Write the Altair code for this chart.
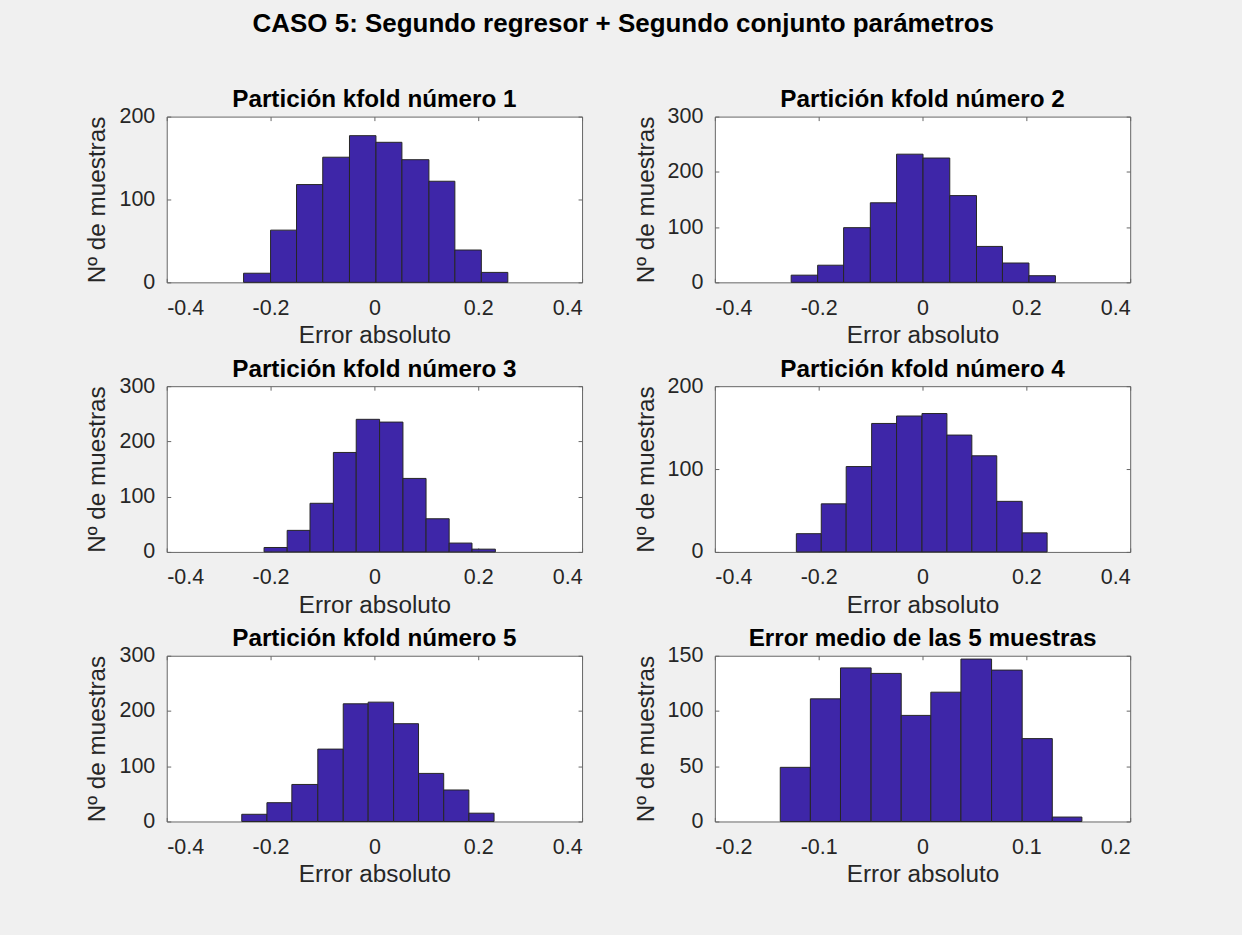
import altair as alt
import pandas as pd

# ---- data ----
titles = ["Partición kfold número 1", "Partición kfold número 2",
          "Partición kfold número 3", "Partición kfold número 4",
          "Partición kfold número 5", "Error medio de las 5 muestras"]

edges1 = [-0.252, -0.200, -0.150, -0.0995, -0.048, 0.003, 0.053, 0.105, 0.155, 0.206, 0.257]
counts1 = [11, 63, 118, 151, 177, 169, 148, 122, 39, 12]

edges2 = [-0.253, -0.202, -0.152, -0.1005, -0.050, 0.001, 0.0525, 0.104, 0.154, 0.205, 0.256]
counts2 = [13, 31, 99, 144, 232, 225, 157, 65, 35, 12]

edges3 = [-0.2125, -0.168, -0.124, -0.079, -0.035, 0.010, 0.055, 0.0995, 0.144, 0.188, 0.233]
counts3 = [8, 39, 88, 180, 240, 235, 133, 60, 16, 5]

edges4 = [-0.243, -0.195, -0.147, -0.098, -0.050, -0.001, 0.047, 0.095, 0.143, 0.192, 0.240]
counts4 = [22, 58, 103, 155, 164, 167, 141, 116, 61, 23]

edges5 = [-0.2555, -0.207, -0.159, -0.109, -0.060, -0.012, 0.037, 0.085, 0.1335, 0.182, 0.2305]
counts5 = [13, 34, 67, 131, 213, 216, 177, 87, 57, 15]

edges6 = [-0.137, -0.108, -0.079, -0.0495, -0.0205, 0.008, 0.037, 0.0665, 0.096, 0.125, 0.1535]
counts6 = [49, 111, 139, 134, 96, 117, 147, 137, 75, 4]

xticks_wide = [-0.4, -0.2, 0, 0.2, 0.4]
xticks_narrow = [-0.2, -0.1, 0, 0.1, 0.2]
yticks_200 = [0, 100, 200]
yticks_300 = [0, 100, 200, 300]
yticks_150 = [0, 50, 100, 150]

main_title = "CASO 5: Segundo regresor + Segundo conjunto parámetros"
x_title = "Error absoluto"
y_title = "Nº de muestras"

# ---- styling ----
FONT = "Liberation Sans"
BAR = "#3e26a8"
EDGE = "#262626"
FRAME = "#666666"
TXT = "#262626"
TICK = 4
W, H = 416, 166


def panel(title, edges, counts, xticks, yticks):
    df = pd.DataFrame({"x0": edges[:-1], "x1": edges[1:], "n": counts})
    xs = alt.Scale(domain=[xticks[0], xticks[-1]], nice=False, zero=False)
    ys = alt.Scale(domain=[yticks[0], yticks[-1]], nice=False)
    common = dict(tickSize=TICK, offset=-TICK, domain=False, grid=False,
                  tickColor=FRAME, tickWidth=1, minExtent=0,
                  labelFont=FONT, labelFontSize=21.5, labelColor=TXT,
                  titleFont=FONT, titleFontSize=24.3, titleFontWeight="normal",
                  titleColor=TXT, labelExpr="toString(datum.value)")
    bars = alt.Chart(df).mark_rect(color=BAR, stroke=EDGE, strokeWidth=1).encode(
        x=alt.X("x0:Q", scale=xs,
                axis=alt.Axis(orient="bottom", values=xticks, title=x_title,
                              labelPadding=15, titlePadding=5, **common)),
        x2="x1:Q",
        y=alt.Y("n:Q", scale=ys,
                axis=alt.Axis(orient="left", values=yticks, title=y_title,
                              labelPadding=12, titlePadding=9, **common)),
        y2=alt.datum(0),
    )
    frame = alt.Chart(df).mark_point(opacity=0).encode(
        x=alt.X("x0:Q", scale=xs,
                axis=alt.Axis(orient="top", values=xticks, labels=False,
                              title=None, **common)),
        y=alt.Y("n:Q", scale=ys,
                axis=alt.Axis(orient="right", values=yticks, labels=False,
                              title=None, **common)),
    )
    return alt.layer(bars, frame).resolve_axis(
        x="independent", y="independent"
    ).properties(
        width=W, height=H,
        title=alt.TitleParams(title, font=FONT, fontSize=24.3, fontWeight="bold",
                              color="#000000", anchor="middle", frame="group",
                              offset=-7),
    )


panels = [
    panel(titles[0], edges1, counts1, xticks_wide, yticks_200),
    panel(titles[1], edges2, counts2, xticks_wide, yticks_300),
    panel(titles[2], edges3, counts3, xticks_wide, yticks_300),
    panel(titles[3], edges4, counts4, xticks_wide, yticks_200),
    panel(titles[4], edges5, counts5, xticks_wide, yticks_300),
    panel(titles[5], edges6, counts6, xticks_narrow, yticks_150),
]

chart = alt.concat(
    *panels, columns=2, bounds="flush",
    spacing=alt.RowColnumber(row=104, column=133),
).properties(
    title=alt.TitleParams(main_title, font=FONT, fontSize=26, fontWeight="bold",
                          color="#000000", anchor="middle", offset=50.5, dx=15),
    background="#f0f0f0",
    padding={"left": 85, "top": 10, "right": 111, "bottom": 100},
).configure_view(
    fill="#ffffff", stroke=FRAME, strokeWidth=1
)

chart.save("out.html", embed_options={"renderer": "svg", "actions": False})
